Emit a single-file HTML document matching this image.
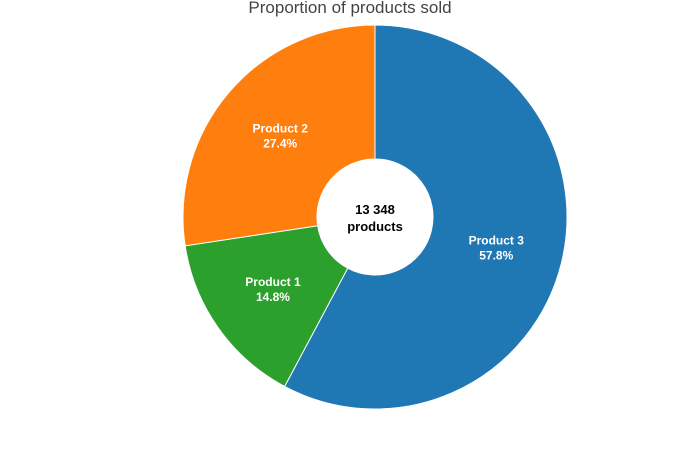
<!DOCTYPE html>
<html><head><meta charset="utf-8"><style>
html,body{margin:0;padding:0;background:#fff;}
svg{display:block;font-family:"Liberation Sans","DejaVu Sans",sans-serif;}
</style></head><body>
<svg id="chart" width="700" height="450">
<text x="350" y="13" text-anchor="middle" font-size="17" fill="#444">Proportion of products sold</text>
<g id="slices"></g>
<text x="375" y="214" text-anchor="middle" font-size="13" font-weight="bold" fill="#000">13 348</text>
<text x="375" y="231" text-anchor="middle" font-size="13" font-weight="bold" fill="#000">products</text>
</svg>
<script>
const categories = ["Product 3", "Product 1", "Product 2"];
const values = [7715, 1976, 3657];
const colors = ["#1f77b4", "#2ca02c", "#ff7f0e"];
const cx = 375, cy = 217, R = 192, r0 = 58;
const ns = "http://www.w3.org/2000/svg";
const g = document.getElementById("slices");
const total = values.reduce((a,b)=>a+b,0);
function pt(a, rad){ return [cx + rad*Math.sin(a), cy - rad*Math.cos(a)]; }
let acc = 0;
values.forEach((v,i)=>{
  const a0 = acc/total*2*Math.PI; acc += v;
  const a1 = acc/total*2*Math.PI;
  const large = (a1-a0) > Math.PI ? 1 : 0;
  const [x0,y0]=pt(a0,R),[x1,y1]=pt(a1,R),[x2,y2]=pt(a1,r0),[x3,y3]=pt(a0,r0);
  const p = document.createElementNS(ns,"path");
  p.setAttribute("d",`M${x0},${y0}A${R},${R} 0 ${large} 1 ${x1},${y1}L${x2},${y2}A${r0},${r0} 0 ${large} 0 ${x3},${y3}Z`);
  p.setAttribute("fill",colors[i]);
  p.setAttribute("stroke","#fff");
  p.setAttribute("stroke-width","1");
  
  
  g.appendChild(p);
  const am = (a0+a1)/2;
  const [lx,ly] = pt(am,(R+r0)/2);
  const pct = (v/total*100).toFixed(1)+"%";
  [categories[i], pct].forEach((s,k)=>{
    const t = document.createElementNS(ns,"text");
    t.setAttribute("x",lx); t.setAttribute("y",ly-3+k*15);
    t.setAttribute("text-anchor","middle");
    t.setAttribute("font-size","12");
    t.setAttribute("font-weight","bold");
    t.setAttribute("fill","#fff");
    
    
    t.textContent = s;
    g.appendChild(t);
  });
});
</script>
</body></html>
